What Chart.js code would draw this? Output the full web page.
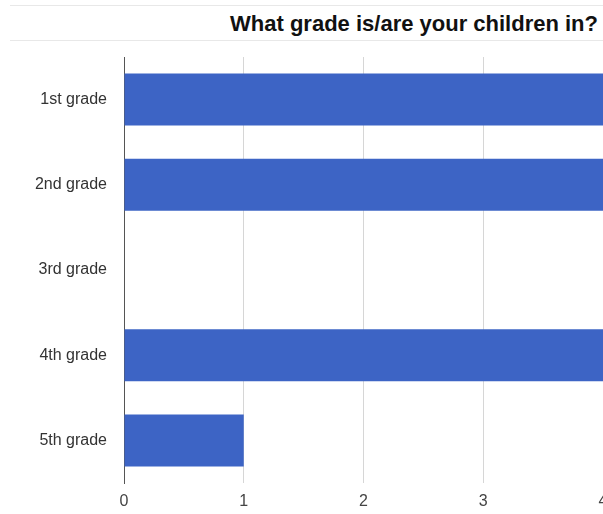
<!DOCTYPE html>
<html>
<head>
<meta charset="utf-8">
<script src="https://cdn.jsdelivr.net/npm/chart.js@4/dist/chart.umd.min.js"></script>
<style>
  html, body { margin: 0; padding: 0; background: #fff; overflow: hidden; }
  #wrap { position: relative; width: 603px; height: 514px; }
  #title {
    position: absolute; right: 5px; top: 11px;
    font: bold 22px "Liberation Sans", Arial, sans-serif; color: #111;
  }
  .rule { position: absolute; left: 10px; right: 0; height: 1px; background: #e8e8e8; }
  canvas { position: absolute; left: 0; top: 0; }
</style>
</head>
<body>
<div id="wrap">
  <div class="rule" style="top:5px"></div>
  <div class="rule" style="top:40px"></div>
  <div id="title">What grade is/are your children in?</div>
  <canvas id="gradeChart" width="603" height="514"></canvas>
</div>
<script>
// DATA
const grades = ["1st grade", "2nd grade", "3rd grade", "4th grade", "5th grade"];
const counts = [4, 4, 0, 4, 1];
const xTicks = [0, 1, 2, 3, 4];

const ctx = document.getElementById("gradeChart");

new Chart(ctx, {
  type: "bar",
  data: {
    labels: grades,
    datasets: [{
      data: counts,
      backgroundColor: "#3d64c5",
      borderWidth: 0,
      categoryPercentage: 1,
      barPercentage: 0.61
    }]
  },
  options: {
    indexAxis: "y",
    responsive: false,
    animation: false,
    layout: { padding: { top: 57, right: 0, bottom: 0, left: 0 } },
    plugins: {
      legend: { display: false },
      tooltip: { enabled: false }
    },
    scales: {
      x: {
        min: 0,
        max: 4,
        afterBuildTicks: scale => { scale.ticks = xTicks.map(v => ({ value: v })); },
        afterFit: scale => { scale.paddingRight = 0; scale.paddingLeft = 0; scale.height = 31; },
        grid: { color: "#d6d6d6", drawTicks: false },
        border: { display: false },
        ticks: {
          padding: 9,
          color: "#444",
          font: { family: "Liberation Sans, Arial, sans-serif", size: 16 }
        }
      },
      y: {
        afterFit: scale => { scale.width = 124; },
        grid: { display: false, drawTicks: false },
        border: { display: true, color: "#555", width: 1 },
        ticks: {
          padding: 17,
          color: "#333",
          font: { family: "Liberation Sans, Arial, sans-serif", size: 16 }
        }
      }
    }
  }
});
</script>
</body>
</html>
